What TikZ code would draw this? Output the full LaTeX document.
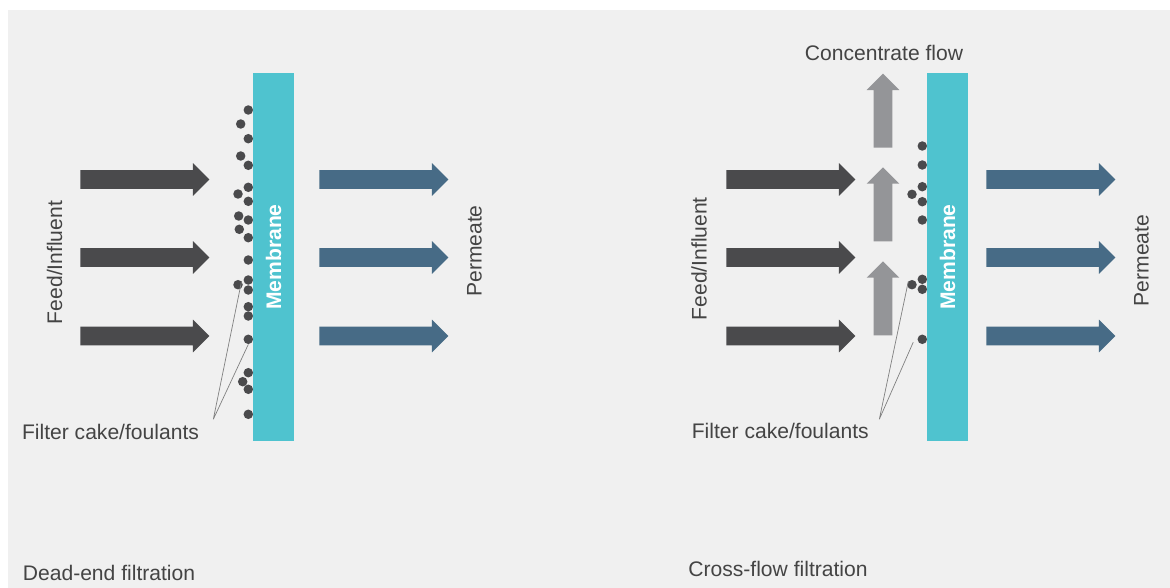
\documentclass[tikz,border=0pt]{standalone}
\usepackage{fontspec}
\setmainfont{Liberation Sans}
\usetikzlibrary{shapes.arrows,positioning}
\definecolor{bggray}{RGB}{240,240,240}
\definecolor{memcyan}{RGB}{79,195,207}
\definecolor{feedgray}{RGB}{74,74,76}
\definecolor{permblue}{RGB}{71,107,134}
\definecolor{concgray}{RGB}{148,149,152}
\definecolor{txtgray}{RGB}{68,68,68}
\tikzset{x=0.02cm, y=-0.02cm, % one unit is one pixel of the layout
every blockarrow/.style={single arrow, draw=none, inner xsep=0pt, inner ysep=0.18cm, minimum width=0pt, single arrow head extend=0.14cm, anchor=tail}, % the fat arrows
feed/.style={every blockarrow, fill=feedgray, minimum height=2.58cm},
perm/.style={every blockarrow, fill=permblue, minimum height=2.58cm},
conc/.style={every blockarrow, fill=concgray, minimum height=1.48cm, inner xsep=0.18cm, inner ysep=0pt, shape border rotate=90}, % pointing up
membrane/.style={rectangle, fill=memcyan, minimum width=7.36cm, minimum height=0.82cm, inner sep=0pt, rotate=90, text=white, font=\fontsize{12}{14}\selectfont\bfseries}, % the membrane bar
foulant/.style={circle, fill=feedgray, inner sep=0pt, minimum size=0.19cm}, % particles of the cake
label/.style={inner sep=0pt, text=txtgray, font=\fontsize{12}{14}\selectfont},
leader/.style={draw=gray, line width=0.4pt},
}

\begin{document}
\begin{tikzpicture}
\useasboundingbox (0,0) rectangle (1170,588);
\fill[white] (0,0) rectangle (1170,588);
\fill[bggray] (8,10) rectangle (1170,588);

% dead-end filtration
\node[membrane] (memL) at (273.5,257) {Membrane};
\foreach \y [count=\i] in {179.5,257.5,336} {
\node[feed] (feedL\i) at (80,\y) {};
\node[perm] (permL\i) at (319,\y) {};
}
\foreach \x/\y [count=\i] in {248.3/110, 240.7/124, 248.3/138.7, 240.7/156, 248.3/165.3, 248.3/187.3, 238/194, 248.3/201.3, 238.7/216, 248.3/220, 239.3/229.3, 248.3/237.7, 248.3/260, 248.3/280, 238/284.7, 248.3/290, 248.3/306.7, 248.3/316, 248.3/339.3, 248.3/372.7, 242.7/381.7, 248.3/389.3, 248.3/414.3}
\node[foulant] (dotL\i) at (\x,\y) {};
\node[label, rotate=90] (feedtxtL) at (54.5,262.5) {Feed/Influent};
\node[label, rotate=90] (permtxtL) at (474.5,251) {Permeate};
\node[label] (caketxtL) at (110.5,432) {Filter cake/foulants};
\coordinate (cakeL) at (213.3,419.3);
\draw[leader] (cakeL) -- (dotL15.north east)
(cakeL) -- (dotL19.south);
\node[label] (titleL) at (109,573) {Dead-end filtration};

% cross-flow filtration
\node[membrane] (memR) at (947.5,257) {Membrane};
\foreach \y [count=\i] in {148,241.7,335.7} 
\node[conc] (concR\i) at (883,\y) {};
\foreach \y [count=\i] in {179.5,257.5,336} {
\node[feed] (feedR\i) at (726,\y) {};
\node[perm] (permR\i) at (986,\y) {};
}
\foreach \x/\y [count=\i] in {922.3/146, 922.3/165, 922.3/186.7, 912/194.3, 922.3/201.7, 922.3/220, 922.3/279.3, 912/284.7, 922.3/289.3, 922.3/339.3}
\node[foulant] (dotR\i) at (\x,\y) {};
\node[label] (conctxt) at (884,53) {Concentrate flow};
\node[label, rotate=90] (feedtxtR) at (699,258.7) {Feed/Influent};
\node[label, rotate=90] (permtxtR) at (1141.5,260.5) {Permeate};
\node[label] (caketxtR) at (780.3,431) {Filter cake/foulants};
\coordinate (cakeR) at (879.3,419.3);
\draw[leader] (cakeR) -- (dotR8.north west)
(cakeR) -- ([shift={(-4,3)}]dotR10.west);
\node[label] (titleR) at (778,569) {Cross-flow filtration};
\end{tikzpicture}
\end{document}
